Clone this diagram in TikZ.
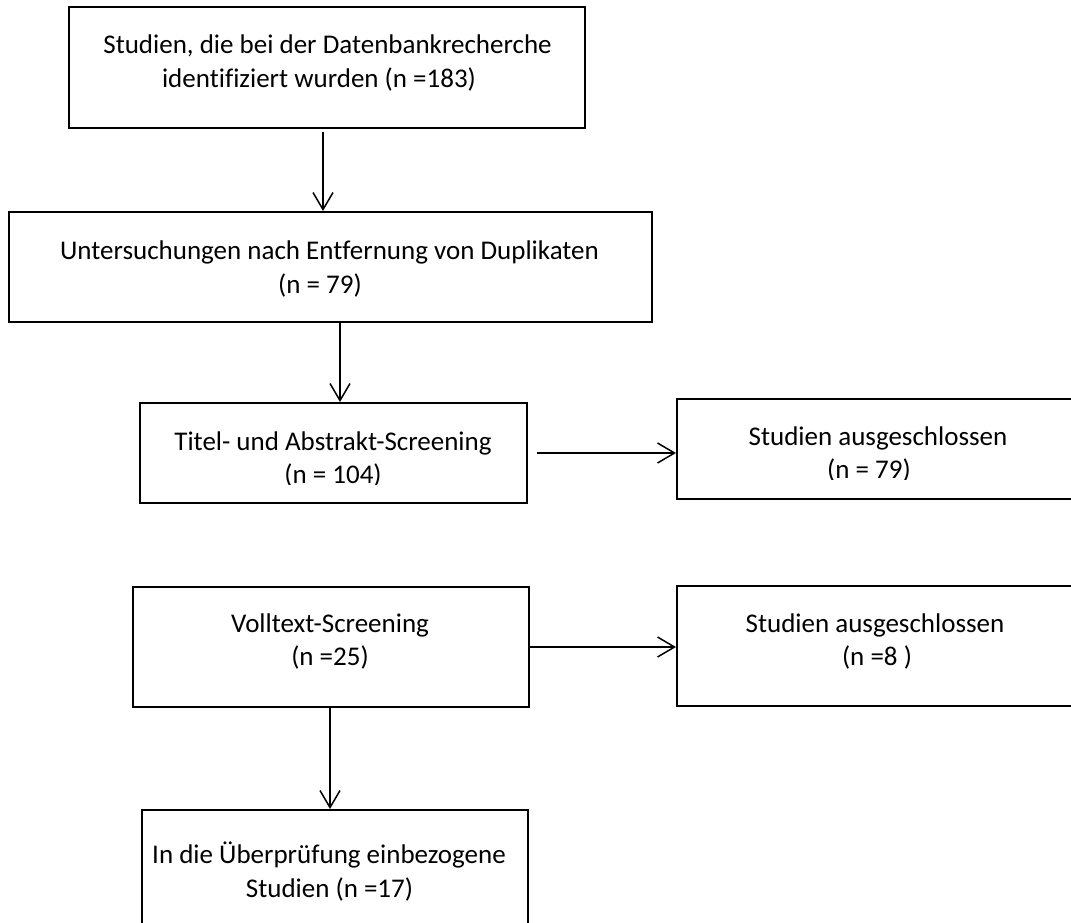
\documentclass[tikz,border=0pt]{standalone}
\usepackage{fontspec}
\setmainfont{Carlito}[Ligatures=NoCommon]
\usetikzlibrary{arrows.meta}
\begin{document}
\begin{tikzpicture}[x=1pt,y=-1pt,
  box/.style={draw=black, line width=2pt, inner sep=0pt},
  txt/.style={font=\fontsize{27}{34}\selectfont, inner sep=0pt, anchor=base},
  arr/.style={line width=1.5pt, -{Straight Barb[length=17pt,width=20pt,line width=1.5pt]}}]
\useasboundingbox (0,0) rectangle (1071,923);
\clip (0,0) rectangle (1071,923);
% boxes
\node[box, minimum width=516pt, minimum height=121pt] (b1) at (327,67.5) {};
\node[box, minimum width=643pt, minimum height=110pt] (b2) at (330.5,267) {};
\node[box, minimum width=387pt, minimum height=100pt] (b3) at (333.5,453) {};
\node[box, minimum width=403pt, minimum height=100pt] (b4) at (878.5,449) {};
\node[box, minimum width=396pt, minimum height=120pt] (b5) at (331,647) {};
\node[box, minimum width=403pt, minimum height=120pt] (b6) at (878.5,646) {};
\node[box, minimum width=386pt, minimum height=130pt] (b7) at (335,875) {};
% texts
\node[txt] (t1a) at (327.5,54) {Studien, die bei der Datenbankrecherche};
\node[txt] (t1b) at (319,88) {identifiziert wurden (n =183)};
\node[txt] (t2a) at (329.5,259) {Untersuchungen nach Entfernung von Duplikaten};
\node[txt] (t2b) at (320,293) {(n = 79)};
\node[txt] (t3a) at (333,450) {Titel- und Abstrakt-Screening};
\begin{scope}
\clip (0,0) rectangle (1071,484);
\node[txt] (t3b) at (333,483) {(n = 104)};
\end{scope}
\node[txt] (t4a) at (878,445) {Studien ausgeschlossen};
\begin{scope}
\clip (0,0) rectangle (1071,479);
\node[txt] (t4b) at (869,478) {(n = 79)};
\end{scope}
\node[txt] (t5a) at (330,632) {Volltext-Screening};
\node[txt] (t5b) at (330,665) {(n =25)};
\node[txt] (t6a) at (875,632) {Studien ausgeschlossen};
\node[txt] (t6b) at (877,665) {(n =8 )};
\node[txt] (t7a) at (329,863) {In die Überprüfung einbezogene};
\node[txt] (t7b) at (329.5,897) {Studien (n =17)};
% arrow columns
\coordinate (c1) at (323,0);
\coordinate (c2) at (340,0);
\coordinate (c5) at (330,0);
\draw[arr, shorten <=3pt] (b1.south -| c1) -- (b2.north -| c1);
\draw[arr] (b2.south -| c2) -- (b3.north -| c2);
\draw[arr, shorten <=9pt] (b3.east) -- (b3.east -| b4.west);
\draw[arr] (b5.east) -- (b5.east -| b6.west);
\draw[arr] (b5.south -| c5) -- (b7.north -| c5);
\end{tikzpicture}
\end{document}
